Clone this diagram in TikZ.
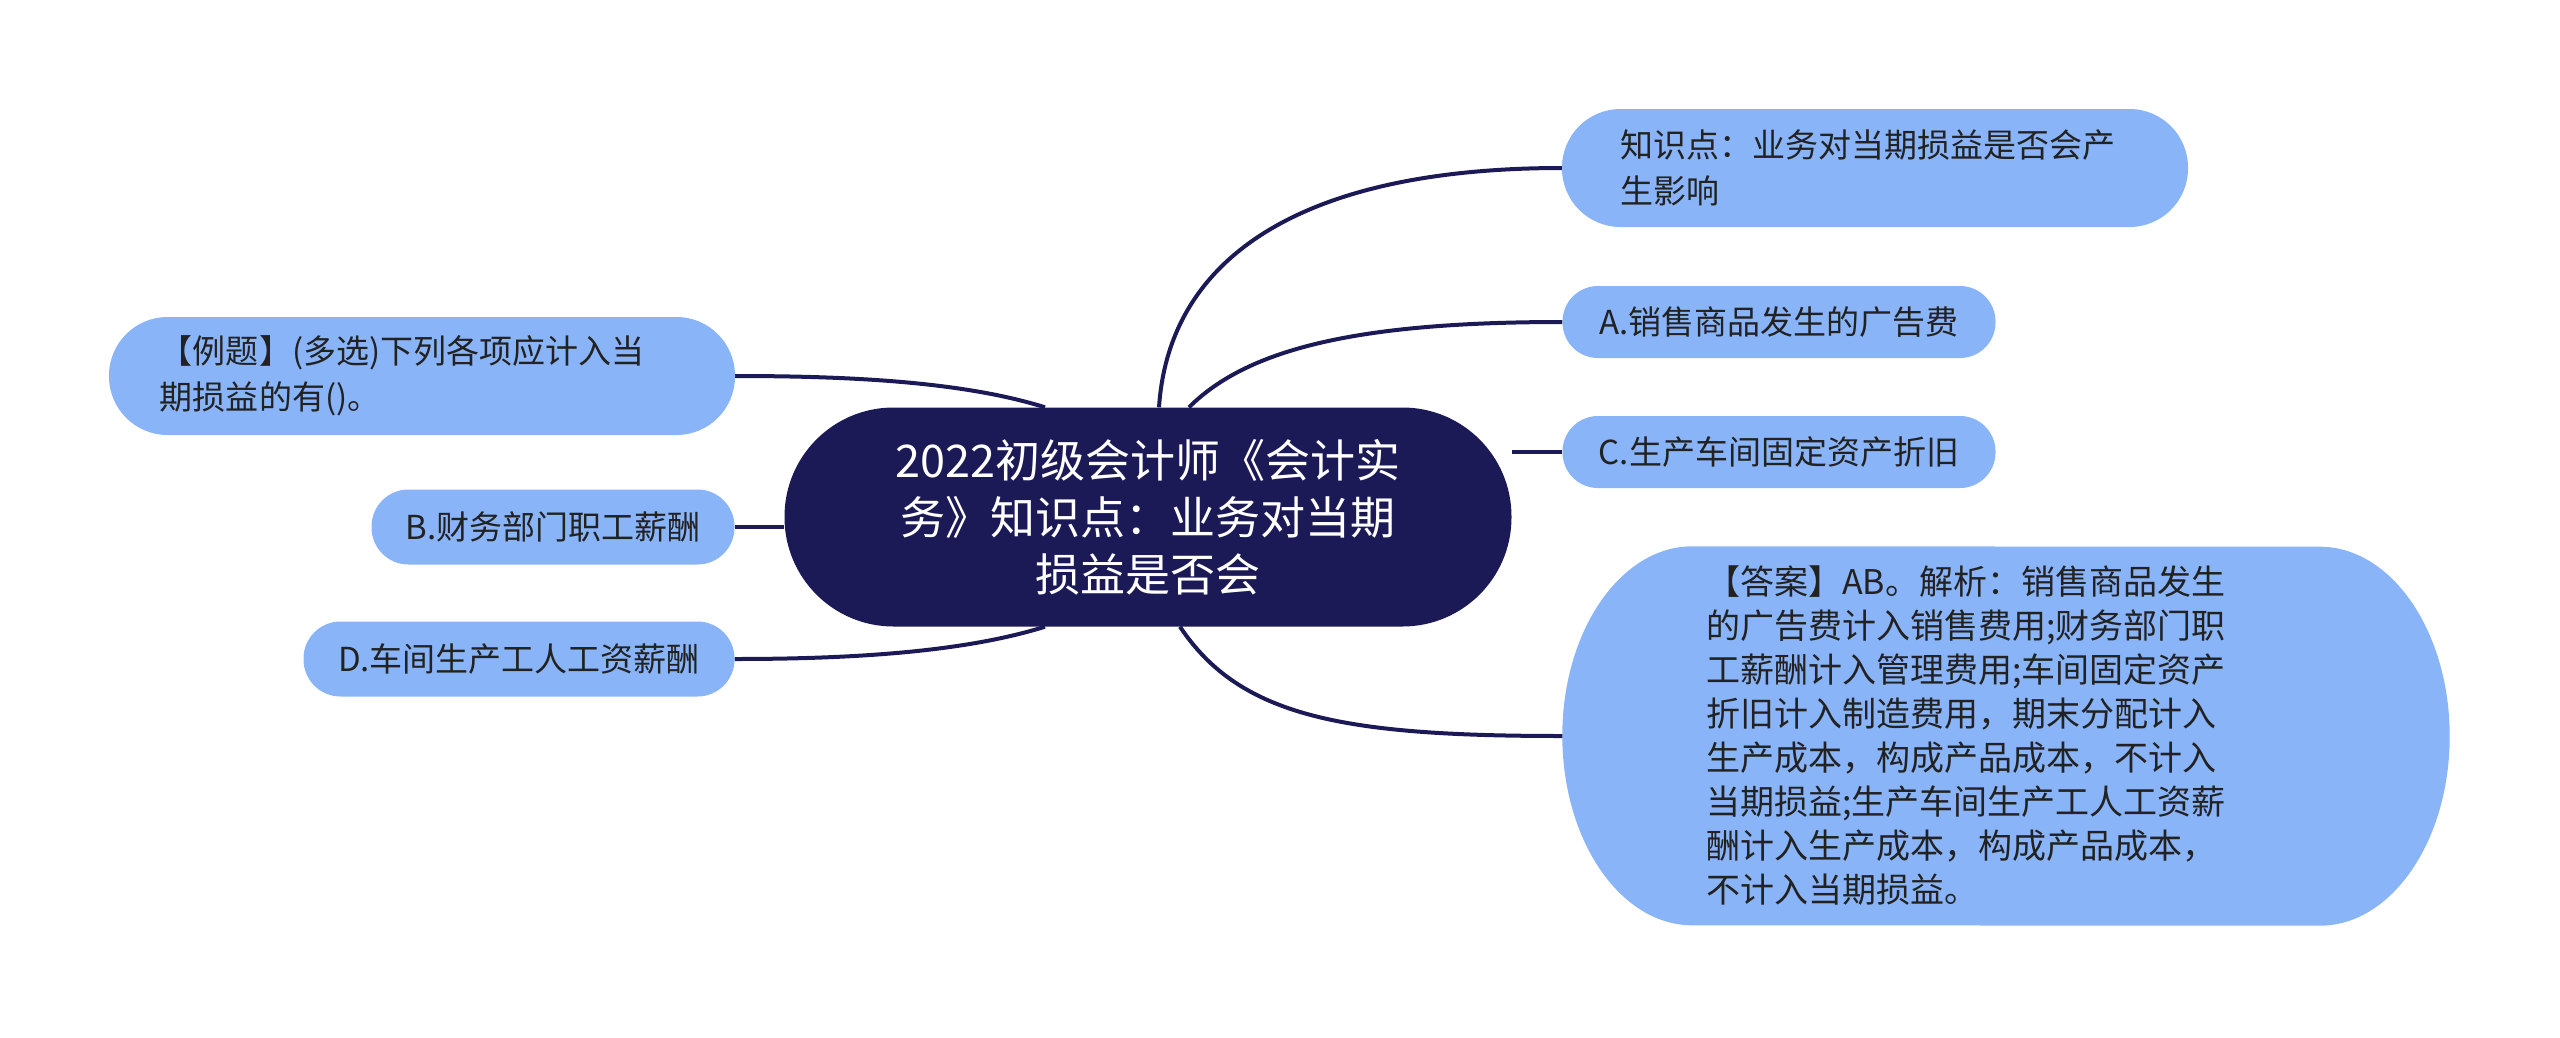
\documentclass[tikz,border=0pt]{standalone}
\usepackage{fontspec}
\setmainfont{Noto Sans CJK SC}
\usetikzlibrary{backgrounds,calc}
\definecolor{navy}{HTML}{1B1A57}
\definecolor{lblue}{HTML}{8AB4F8}
\definecolor{txt}{HTML}{222222}
\begin{document}
\begin{tikzpicture}[x=1bp,y=-1bp,
  leaf/.style={rectangle, fill=lblue, text=txt, inner ysep=0pt,
    font=\fontsize{33bp}{46bp}\selectfont},
  link/.style={draw=navy, line width=4bp},
]
\useasboundingbox (0,0) rectangle (2560,1037);

% central node
\node[rectangle, fill=navy, text=white, rounded corners=109bp,
  minimum height=219bp, text width=727bp, inner xsep=0pt, align=center,
  font=\fontsize{45bp}{57bp}\selectfont] (c) at (1148,517)
  {2022初级会计师《会计实\\务》知识点：业务对当期\\损益是否会};

% right nodes
\node[leaf, rounded corners=58.5bp, minimum height=118bp, text width=510bp,
  inner xsep=58bp, align=left] (r1) at (1875,168)
  {知识点：业务对当期损益是否会产\\生影响};
\node[leaf, rounded corners=35.5bp, minimum height=72bp, text width=433bp,
  inner xsep=0pt, align=center] (r2) at (1779,322) {A.销售商品发生的广告费};
\node[leaf, rounded corners=35.5bp, minimum height=72bp, text width=433bp,
  inner xsep=0pt, align=center] (r3) at (1779,452) {C.生产车间固定资产折旧};
\node[rectangle, text=txt, inner ysep=0pt, minimum height=379bp,
  text width=600bp, inner xsep=143.5bp, align=left,
  font=\fontsize{34bp}{44bp}\selectfont] (ra) at (2006,736)
  {【答案】AB。解析：销售商品发生\\的广告费计入销售费用;财务部门职\\工薪酬计入管理费用;车间固定资产\\折旧计入制造费用，期末分配计入\\生产成本，构成产品成本，不计入\\当期损益;生产车间生产工人工资薪\\酬计入生产成本，构成产品成本，\\不计入当期损益。};

% left nodes
\node[leaf, rounded corners=58.5bp, minimum height=118bp, text width=524bp,
  inner xsep=51bp, align=left] (l1) at (422,376)
  {【例题】(多选)下列各项应计入当\\期损益的有()。};
\node[leaf, rounded corners=37bp, minimum height=75bp, text width=363bp,
  inner xsep=0pt, align=center] (l2) at (553,527) {B.财务部门职工薪酬};
\node[leaf, rounded corners=37bp, minimum height=75bp, text width=431bp,
  inner xsep=0pt, align=center] (l3) at (519,659) {D.车间生产工人工资薪酬};

\begin{scope}[on background layer]
  \fill[lblue] ($(ra.north west)+(130bp,0)$)
    arc[start angle=90, end angle=270, x radius=130bp, y radius=189.5bp]
    -- ($(ra.south east)+(-130bp,0)$)
    arc[start angle=-90, end angle=90, x radius=130bp, y radius=189.5bp]
    -- cycle;
  \draw[link] ($(c.north)+(11,0)$) .. controls +(10,-150) and +(-260,0) .. (r1.west);
  \draw[link] ($(c.north)+(41,0)$) .. controls +(60,-60) and +(-200,0) .. (r2.west);
  \draw[link] (r3.west) -- (r3.west -| c.east);
  \draw[link] ($(c.south)+(32,0)$) .. controls +(60,90) and +(-220,0) .. (ra.west);
  \draw[link] ($(c.north)+(-103,0)$) .. controls +(-80,-25) and +(120,0) .. (l1.east);
  \draw[link] (l2.east) -- (l2.east -| c.west);
  \draw[link] ($(c.south)+(-103,0)$) .. controls +(-80,25) and +(120,0) .. (l3.east);
\end{scope}
\end{tikzpicture}
\end{document}
